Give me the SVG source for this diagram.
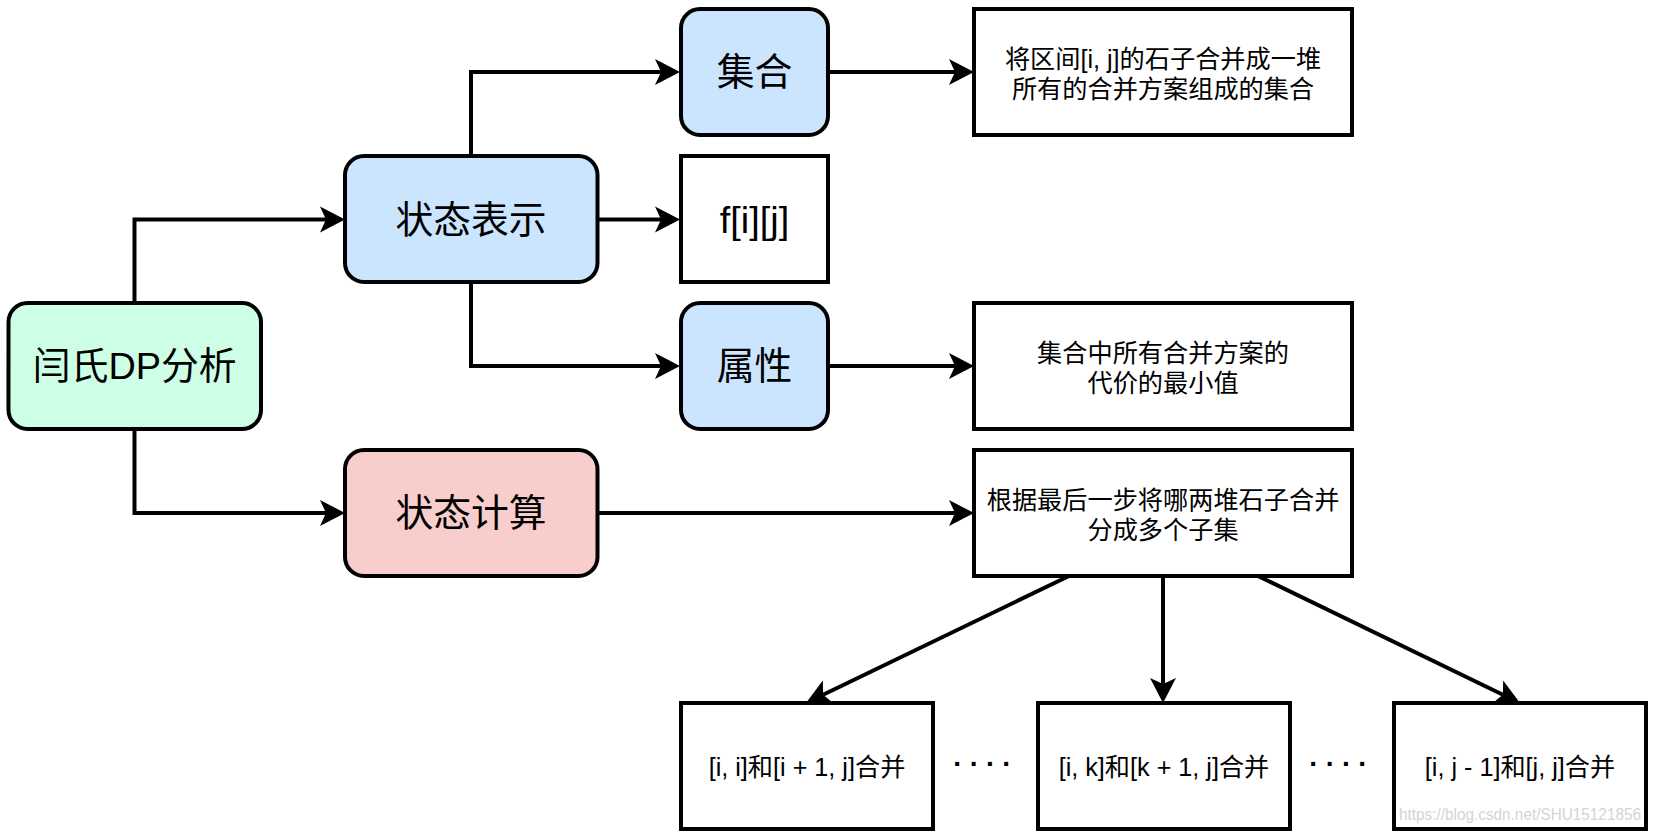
<svg xmlns="http://www.w3.org/2000/svg" width="1656" height="837" viewBox="0 0 1656 837">
<style>
  .box{stroke:#000;stroke-width:4}
  .green{fill:#CCFFE6}
  .blue{fill:#CCE5FF}
  .pink{fill:#F8CECC}
  .white{fill:#fff}
  .big{font-family:"Liberation Sans","Noto Sans CJK SC",sans-serif;font-size:37.8px;fill:#000;text-anchor:middle;dominant-baseline:central}
  .small{font-family:"Liberation Sans","Noto Sans CJK SC",sans-serif;font-size:25.2px;fill:#000;text-anchor:middle;dominant-baseline:central}
  .dots{font-family:"Liberation Sans",sans-serif;font-size:28px;font-weight:bold;fill:#000;text-anchor:middle;dominant-baseline:central;letter-spacing:7px}
  .edge{fill:none;stroke:#000;stroke-width:4;marker-end:url(#arr)}
  .wm{font-family:"Liberation Sans",sans-serif;font-size:16px;fill:#d4d4d4}
</style>
<defs>
  <marker id="arr" markerUnits="userSpaceOnUse" markerWidth="30" markerHeight="30" viewBox="-2 -15 30 30" refX="6" refY="0" orient="auto">
    <path d="M0,-13 L25,0 L0,13 L6,0 Z" fill="#000"/>
  </marker>
</defs>
<rect width="1656" height="837" fill="#fff"/>

<g id="connectors">
  <path class="edge" d="M134.5,303 V219.5 H326"/>
  <path class="edge" d="M134.5,429 V513 H326"/>
  <path class="edge" d="M471,156 V72 H661"/>
  <path class="edge" d="M597,219.5 H661"/>
  <path class="edge" d="M471,282 V366 H661"/>
  <path class="edge" d="M828,72 H955"/>
  <path class="edge" d="M828,366 H955"/>
  <path class="edge" d="M597,513 H955"/>
  <path class="edge" d="M1069,576 L823.1,694.7"/>
  <path class="edge" d="M1163,576 V684"/>
  <path class="edge" d="M1258,576 L1502.9,694.7"/>
</g>

<g id="n-yan">
  <rect class="box green" x="8.5" y="303" width="252.5" height="126" rx="19" ry="19"/>
  <text class="big" x="134.7" y="366">闫氏DP分析</text>
</g>
<g id="n-state-rep">
  <rect class="box blue" x="345" y="156" width="252.5" height="126" rx="19" ry="19"/>
  <text class="big" x="471" y="219.5">状态表示</text>
</g>
<g id="n-set">
  <rect class="box blue" x="681" y="9" width="147" height="126" rx="19" ry="19"/>
  <text class="big" x="754.5" y="72">集合</text>
</g>
<g id="n-fij">
  <rect class="box white" x="681" y="156" width="147" height="126"/>
  <text class="big" x="754.5" y="219.5">f[i][j]</text>
</g>
<g id="n-attr">
  <rect class="box blue" x="681" y="303" width="147" height="126" rx="19" ry="19"/>
  <text class="big" x="754.5" y="366">属性</text>
</g>
<g id="n-state-calc">
  <rect class="box pink" x="345" y="450" width="252.5" height="126" rx="19" ry="19"/>
  <text class="big" x="471" y="513">状态计算</text>
</g>
<g id="n-set-desc">
  <rect class="box white" x="974" y="9" width="378" height="126"/>
  <text class="small" x="1163" y="58.5">将区间[i, j]的石子合并成一堆</text>
  <text class="small" x="1163" y="88.5">所有的合并方案组成的集合</text>
</g>
<g id="n-attr-desc">
  <rect class="box white" x="974" y="303" width="378" height="126"/>
  <text class="small" x="1163" y="352.5">集合中所有合并方案的</text>
  <text class="small" x="1163" y="382.5">代价的最小值</text>
</g>
<g id="n-calc-desc">
  <rect class="box white" x="974" y="450" width="378" height="126"/>
  <text class="small" x="1163" y="499.5">根据最后一步将哪两堆石子合并</text>
  <text class="small" x="1163" y="529.5">分成多个子集</text>
</g>
<g id="n-sub1">
  <rect class="box white" x="681" y="703" width="252" height="126"/>
  <text class="small" x="807" y="767">[i, i]和[i + 1, j]合并</text>
</g>
<g id="n-sub2">
  <rect class="box white" x="1038" y="703" width="252" height="126"/>
  <text class="small" x="1164" y="767">[i, k]和[k + 1, j]合并</text>
</g>
<g id="n-sub3">
  <rect class="box white" x="1394" y="703" width="252" height="126"/>
  <text class="small" x="1520" y="767">[i, j - 1]和[j, j]合并</text>
</g>
<g id="dots1"><text class="dots" x="986" y="763">····</text></g>
<g id="dots2"><text class="dots" x="1342" y="763">····</text></g>
<text class="wm" x="1399" y="820" textLength="242" lengthAdjust="spacingAndGlyphs">https://blog.csdn.net/SHU15121856</text>
</svg>
